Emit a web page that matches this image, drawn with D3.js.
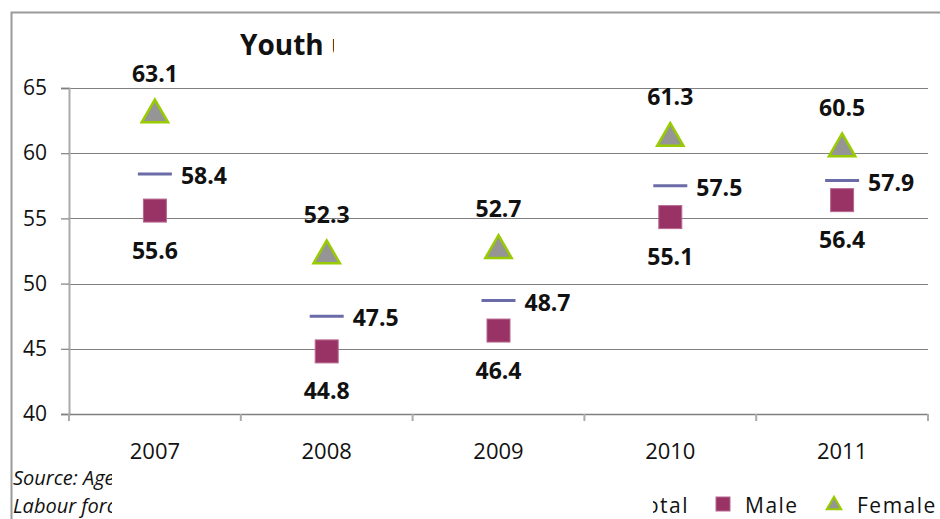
<!DOCTYPE html>
<html>
<head>
<meta charset="utf-8">
<script src="https://cdn.jsdelivr.net/npm/d3@7"></script>
<style>
  body { margin: 0; background: #fff; }
  svg { display: block; font-family: "Open Sans", "Noto Sans", sans-serif; }
</style>
</head>
<body>
<div id="chart"></div>
<script>
// values
var years = ["2007", "2008", "2009", "2010", "2011"];
var total = [58.4, 47.5, 48.7, 57.5, 57.9];
var male = [55.6, 44.8, 46.4, 55.1, 56.4];
var female = [63.1, 52.3, 52.7, 61.3, 60.5];
var yTicks = [40, 45, 50, 55, 60, 65];

var W = 940, H = 519;
var margin = {top: 88, right: 12, bottom: 105, left: 69},
    width = W - margin.left - margin.right,
    height = H - margin.top - margin.bottom;

var svg = d3.select("#chart").append("svg")
    .attr("width", W)
    .attr("height", H);

// outer chart border (only left and top visible)
svg.append("path")
    .attr("d", "M11.5," + H + "V12.5H" + W)
    .attr("fill", "none")
    .attr("stroke", "#9a9a9a")
    .attr("stroke-width", 2);

// title, cut off in the original
svg.append("clipPath").attr("id", "titleClip")
  .append("rect").attr("x", 0).attr("y", 0).attr("width", 334).attr("height", 80);
svg.append("text")
    .attr("clip-path", "url(#titleClip)")
    .attr("x", 240).attr("y", 55)
    .attr("font-size", 28).attr("font-weight", "bold")
    .attr("fill", "#111")
    .text("Youth unemployment rate (%)");

var g = svg.append("g")
    .attr("transform", "translate(" + margin.left + "," + margin.top + ")");

var x = d3.scaleBand().domain(years).range([0, width]);
var y = d3.scaleLinear().domain([40, 65]).range([height, 0]);

// gridlines
g.selectAll(".grid").data(yTicks.slice(1)).enter().append("line")
    .attr("x1", 0).attr("x2", width)
    .attr("y1", function(d) { return Math.round(y(d)) + 0.5; })
    .attr("y2", function(d) { return Math.round(y(d)) + 0.5; })
    .attr("stroke", "#7f7f7f").attr("stroke-width", 1.2);

// y axis
var yAxis = g.append("g")
    .call(d3.axisLeft(y).tickValues(yTicks).tickSize(8).tickPadding(14));
yAxis.select(".domain").attr("stroke", "#aaa").attr("stroke-width", 2);
yAxis.selectAll(".tick line").attr("stroke", "#7f7f7f").attr("stroke-width", 1.2);
yAxis.selectAll("text").attr("font-size", 21).attr("fill", "#111")
    .attr("font-family", "Open Sans, sans-serif");

// x axis
var xa = g.append("g").attr("transform", "translate(0," + height + ")");
xa.append("line").attr("x1", 0).attr("x2", width).attr("y1", 0.5).attr("y2", 0.5)
    .attr("stroke", "#7f7f7f").attr("stroke-width", 1.5);
var bounds = years.map(function(d) { return x(d); }).concat([width]);
xa.selectAll(".xt").data(bounds).enter().append("line")
    .attr("x1", function(d) { return d; }).attr("x2", function(d) { return d; })
    .attr("y1", 0).attr("y2", 7)
    .attr("stroke", "#aaa").attr("stroke-width", 2);
xa.selectAll(".xl").data(years).enter().append("text")
    .attr("x", function(d) { return x(d) + x.bandwidth() / 2; })
    .attr("y", 45)
    .attr("text-anchor", "middle")
    .attr("font-size", 22).attr("fill", "#111")
    .text(function(d) { return d; });

function cx(i) { return x(years[i]) + x.bandwidth() / 2; }

var triangle = d3.symbol().type(d3.symbolTriangle).size(300);

// total: horizontal dash
g.selectAll(".tot").data(total).enter().append("line")
    .attr("x1", function(d, i) { return cx(i) - 17; })
    .attr("x2", function(d, i) { return cx(i) + 17; })
    .attr("y1", function(d) { return y(d); })
    .attr("y2", function(d) { return y(d); })
    .attr("stroke", "#6b6ba8").attr("stroke-width", 3);
g.selectAll(".totl").data(total).enter().append("text")
    .attr("x", function(d, i) { return cx(i) + 26; })
    .attr("y", function(d) { return y(d) + 10; })
    .attr("font-size", 23).attr("font-weight", "bold").attr("fill", "#111")
    .text(function(d) { return d.toFixed(1); });

// male: squares
g.selectAll(".m").data(male).enter().append("rect")
    .attr("x", function(d, i) { return cx(i) - 11.5; })
    .attr("y", function(d) { return y(d) - 11.5; })
    .attr("width", 23).attr("height", 23)
    .attr("fill", "#993366").attr("stroke", "#b8688e").attr("stroke-width", 1);
g.selectAll(".ml").data(male).enter().append("text")
    .attr("x", function(d, i) { return cx(i); })
    .attr("y", function(d) { return y(d) + 48; })
    .attr("text-anchor", "middle")
    .attr("font-size", 23).attr("font-weight", "bold").attr("fill", "#111")
    .text(function(d) { return d.toFixed(1); });

// female: triangles
g.selectAll(".f").data(female).enter().append("path")
    .attr("d", triangle)
    .attr("transform", function(d, i) { return "translate(" + cx(i) + "," + (y(d) + 2) + ")"; })
    .attr("fill", "#959595").attr("stroke", "#99cc00").attr("stroke-width", 2.5);
g.selectAll(".fl").data(female).enter().append("text")
    .attr("x", function(d, i) { return cx(i); })
    .attr("y", function(d) { return y(d) - 31; })
    .attr("text-anchor", "middle")
    .attr("font-size", 23).attr("font-weight", "bold").attr("fill", "#111")
    .text(function(d) { return d.toFixed(1); });

// source note, cut off in the original
svg.append("clipPath").attr("id", "srcClip")
  .append("rect").attr("x", 0).attr("y", 460).attr("width", 112).attr("height", 60);
var src = svg.append("g").attr("clip-path", "url(#srcClip)")
    .attr("font-size", 20).attr("font-style", "italic").attr("fill", "#111");
src.append("text").attr("x", 13).attr("y", 485).text("Source: Agency for Statistics");
src.append("text").attr("x", 13).attr("y", 513).text("Labour force survey");

// legend, left part cut off
svg.append("clipPath").attr("id", "legClip")
  .append("rect").attr("x", 653).attr("y", 480).attr("width", 300).attr("height", 40);
var leg = svg.append("g").attr("clip-path", "url(#legClip)")
    .attr("font-size", 21).attr("fill", "#111");
leg.append("line").attr("x1", 585).attr("x2", 607).attr("y1", 505).attr("y2", 505)
    .attr("stroke", "#6b6ba8").attr("stroke-width", 3);
leg.append("text").attr("x", 689).attr("y", 513).attr("text-anchor", "end")
    .attr("letter-spacing", 1.5).text("Total");
leg.append("rect").attr("x", 716).attr("y", 497).attr("width", 14).attr("height", 14)
    .attr("fill", "#993366").attr("stroke", "#b8688e");
leg.append("text").attr("x", 745).attr("y", 513).attr("letter-spacing", 1.5).text("Male");
leg.append("path").attr("d", d3.symbol().type(d3.symbolTriangle).size(90))
    .attr("transform", "translate(834,505)")
    .attr("fill", "#959595").attr("stroke", "#99cc00").attr("stroke-width", 2);
leg.append("text").attr("x", 857).attr("y", 513).attr("letter-spacing", 1.5).text("Female");
</script>
</body>
</html>
